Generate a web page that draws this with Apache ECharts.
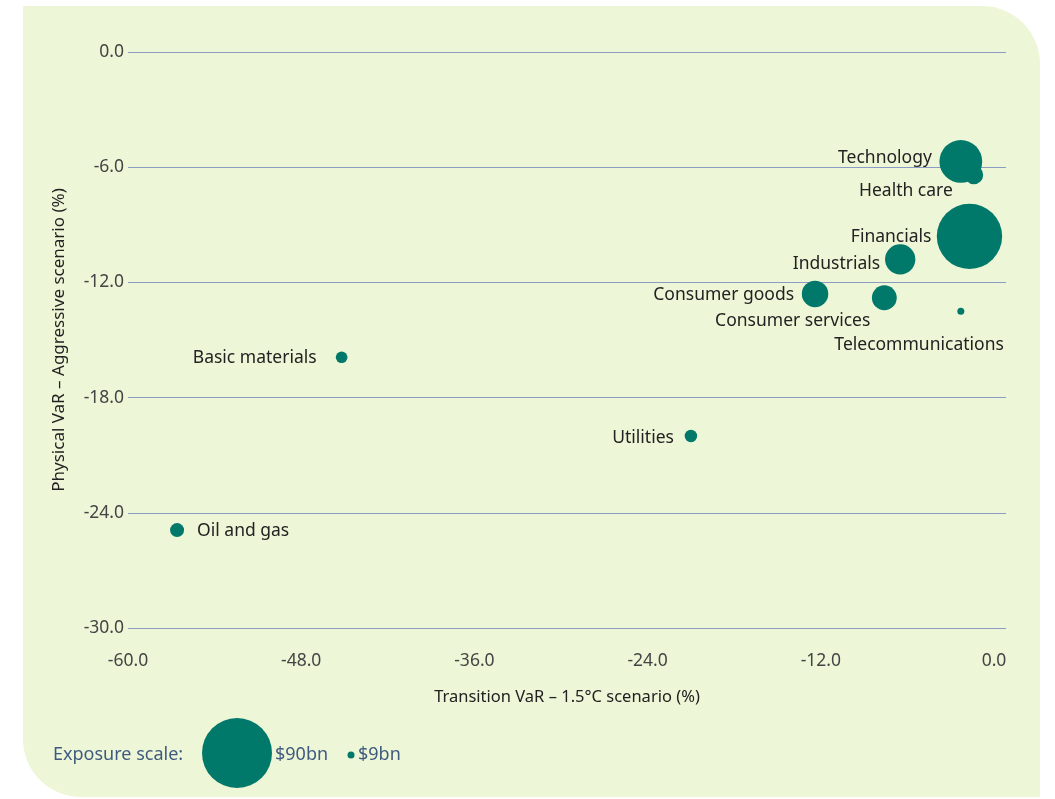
<!DOCTYPE html>
<html>
<head>
<meta charset="utf-8">
<title>Transition vs physical VaR by sector</title>
<script src="https://cdn.jsdelivr.net/npm/echarts@6/dist/echarts.min.js"></script>
<style>
  html, body { margin: 0; padding: 0; background: #ffffff; }
  #chart { width: 1055px; height: 799px; }
</style>
</head>
<body>
<div id="chart"></div>
<script>
// Sector values: transition VaR (x, %), physical VaR (y, %), exposure ($bn)
const sectors       = ['Technology', 'Health care', 'Financials', 'Industrials', 'Consumer goods',
                       'Consumer services', 'Telecommunications', 'Basic materials', 'Utilities', 'Oil and gas'];
const transitionVaR = [-2.3, -1.4, -1.7, -6.5, -12.4, -7.6, -2.3, -45.2, -21.0, -56.6];
const physicalVaR   = [-5.7, -6.4, -9.6, -10.8, -12.6, -12.8, -13.5, -15.9, -20.0, -24.9];
const exposureBn    = [55, 24, 84, 39, 34, 32, 9, 15, 16, 18];

// Exposure scale key
const scaleKeyBn     = [90, 9];
const scaleKeyLabels = ['$90bn', '$9bn'];

// Axis ticks
const xTicks = [-60, -48, -36, -24, -12, 0];
const yTicks = [0, -6, -12, -18, -24, -30];

// Bubble diameter in px per $bn
const PX_PER_BN = 70 / 90;

// Label placement around each bubble: anchor offset from the bubble centre and text alignment
const labelPlacement = {
  'Technology':         { align: 'right', dx: -29, dy: -3 },
  'Health care':        { align: 'right', dx: -21, dy: 16 },
  'Financials':         { align: 'right', dx: -38, dy: 1 },
  'Industrials':        { align: 'right', dx: -20, dy: 5 },
  'Consumer goods':     { align: 'right', dx: -21, dy: 1 },
  'Consumer services':  { align: 'right', dx: -14, dy: 23 },
  'Telecommunications': { align: 'right', dx: 43,  dy: 34 },
  'Basic materials':    { align: 'right', dx: -25, dy: 1 },
  'Utilities':          { align: 'right', dx: -17, dy: 2 },
  'Oil and gas':        { align: 'left',  dx: 20,  dy: 1 }
};

const FONT = '"Noto Sans", "Open Sans", sans-serif';
const BUBBLE = '#00786a';
const PANEL = '#edf7d7';
const GRIDLINE = '#8c9bc3';
const KEY_TEXT = '#3f5a7e';

const bubbleSize = bn => bn * PX_PER_BN;

const points = sectors.map((name, i) => {
  const p = labelPlacement[name];
  const r = bubbleSize(exposureBn[i]) / 2;
  return {
    name: name,
    value: [transitionVaR[i], physicalVaR[i], exposureBn[i]],
    label: {
      show: true,
      // position is relative to the symbol's bounding box (top-left corner)
      position: [r + p.dx, r + p.dy],
      align: p.align,
      verticalAlign: 'middle',
      formatter: '{b}'
    }
  };
});

const xStep = xTicks[1] - xTicks[0];
const yStep = yTicks[0] - yTicks[1];

const chart = echarts.init(document.getElementById('chart'), null, { renderer: 'canvas' });

// Exposure key (circle sizes from the same px-per-$bn scale)
const bigR = bubbleSize(scaleKeyBn[0]) / 2;
const smallR = bubbleSize(scaleKeyBn[1]) / 2;

chart.setOption({
  backgroundColor: '#ffffff',
  animation: false,
  textStyle: { fontFamily: FONT },
  graphic: [
    {
      type: 'rect',
      z: -10,
      silent: true,
      shape: { x: 23, y: 6, width: 1017, height: 791, r: [0, 58, 0, 58] },
      style: { fill: PANEL }
    },
    {
      type: 'text',
      left: 53, top: 746,
      style: { text: 'Exposure scale:', fill: KEY_TEXT, font: '18px ' + FONT }
    },
    {
      type: 'circle',
      shape: { cx: 237, cy: 753, r: bigR },
      style: { fill: BUBBLE }
    },
    {
      type: 'text',
      left: 275, top: 746,
      style: { text: scaleKeyLabels[0], fill: KEY_TEXT, font: '18px ' + FONT }
    },
    {
      type: 'circle',
      shape: { cx: 351, cy: 755, r: smallR },
      style: { fill: BUBBLE }
    },
    {
      type: 'text',
      left: 358, top: 746,
      style: { text: scaleKeyLabels[1], fill: KEY_TEXT, font: '18px ' + FONT }
    }
  ],
  grid: {
    left: 128,
    right: 49,
    top: 52,
    bottom: 171,
    containLabel: false
  },
  xAxis: {
    type: 'value',
    min: xTicks[0],
    max: 0.83,
    interval: xStep,
    name: 'Transition VaR – 1.5°C scenario (%)',
    nameLocation: 'middle',
    nameGap: 61,
    nameTextStyle: { color: '#222222', fontSize: 16.5, fontFamily: FONT },
    axisLine: { show: false },
    axisTick: { show: false },
    splitLine: { show: false },
    axisLabel: {
      color: '#444444',
      fontSize: 17.5,
      fontFamily: FONT,
      margin: 24,
      showMaxLabel: true,
      formatter: v => (xTicks.indexOf(Math.round(v * 1000) / 1000) >= 0 ? v.toFixed(1) : '')
    }
  },
  yAxis: {
    type: 'value',
    min: yTicks[yTicks.length - 1],
    max: yTicks[0],
    interval: yStep,
    name: 'Physical VaR – Aggressive scenario (%)',
    nameLocation: 'middle',
    nameGap: 60,
    nameTextStyle: { color: '#222222', fontSize: 17, fontFamily: FONT },
    axisLine: { show: false },
    axisTick: { show: false },
    splitLine: { show: true, lineStyle: { color: GRIDLINE, width: 1 } },
    axisLabel: {
      color: '#444444',
      fontSize: 17.5,
      fontFamily: FONT,
      margin: 4,
      formatter: v => v.toFixed(1)
    }
  },
  series: [
    {
      type: 'scatter',
      data: points,
      symbol: 'circle',
      symbolSize: val => bubbleSize(val[2]),
      itemStyle: { color: BUBBLE, opacity: 1 },
      label: {
        color: '#222222',
        fontSize: 17.5,
        fontFamily: FONT
      },
      labelLayout: { hideOverlap: false },
      emphasis: { disabled: true },
      silent: true
    }
  ]
});
</script>
</body>
</html>
